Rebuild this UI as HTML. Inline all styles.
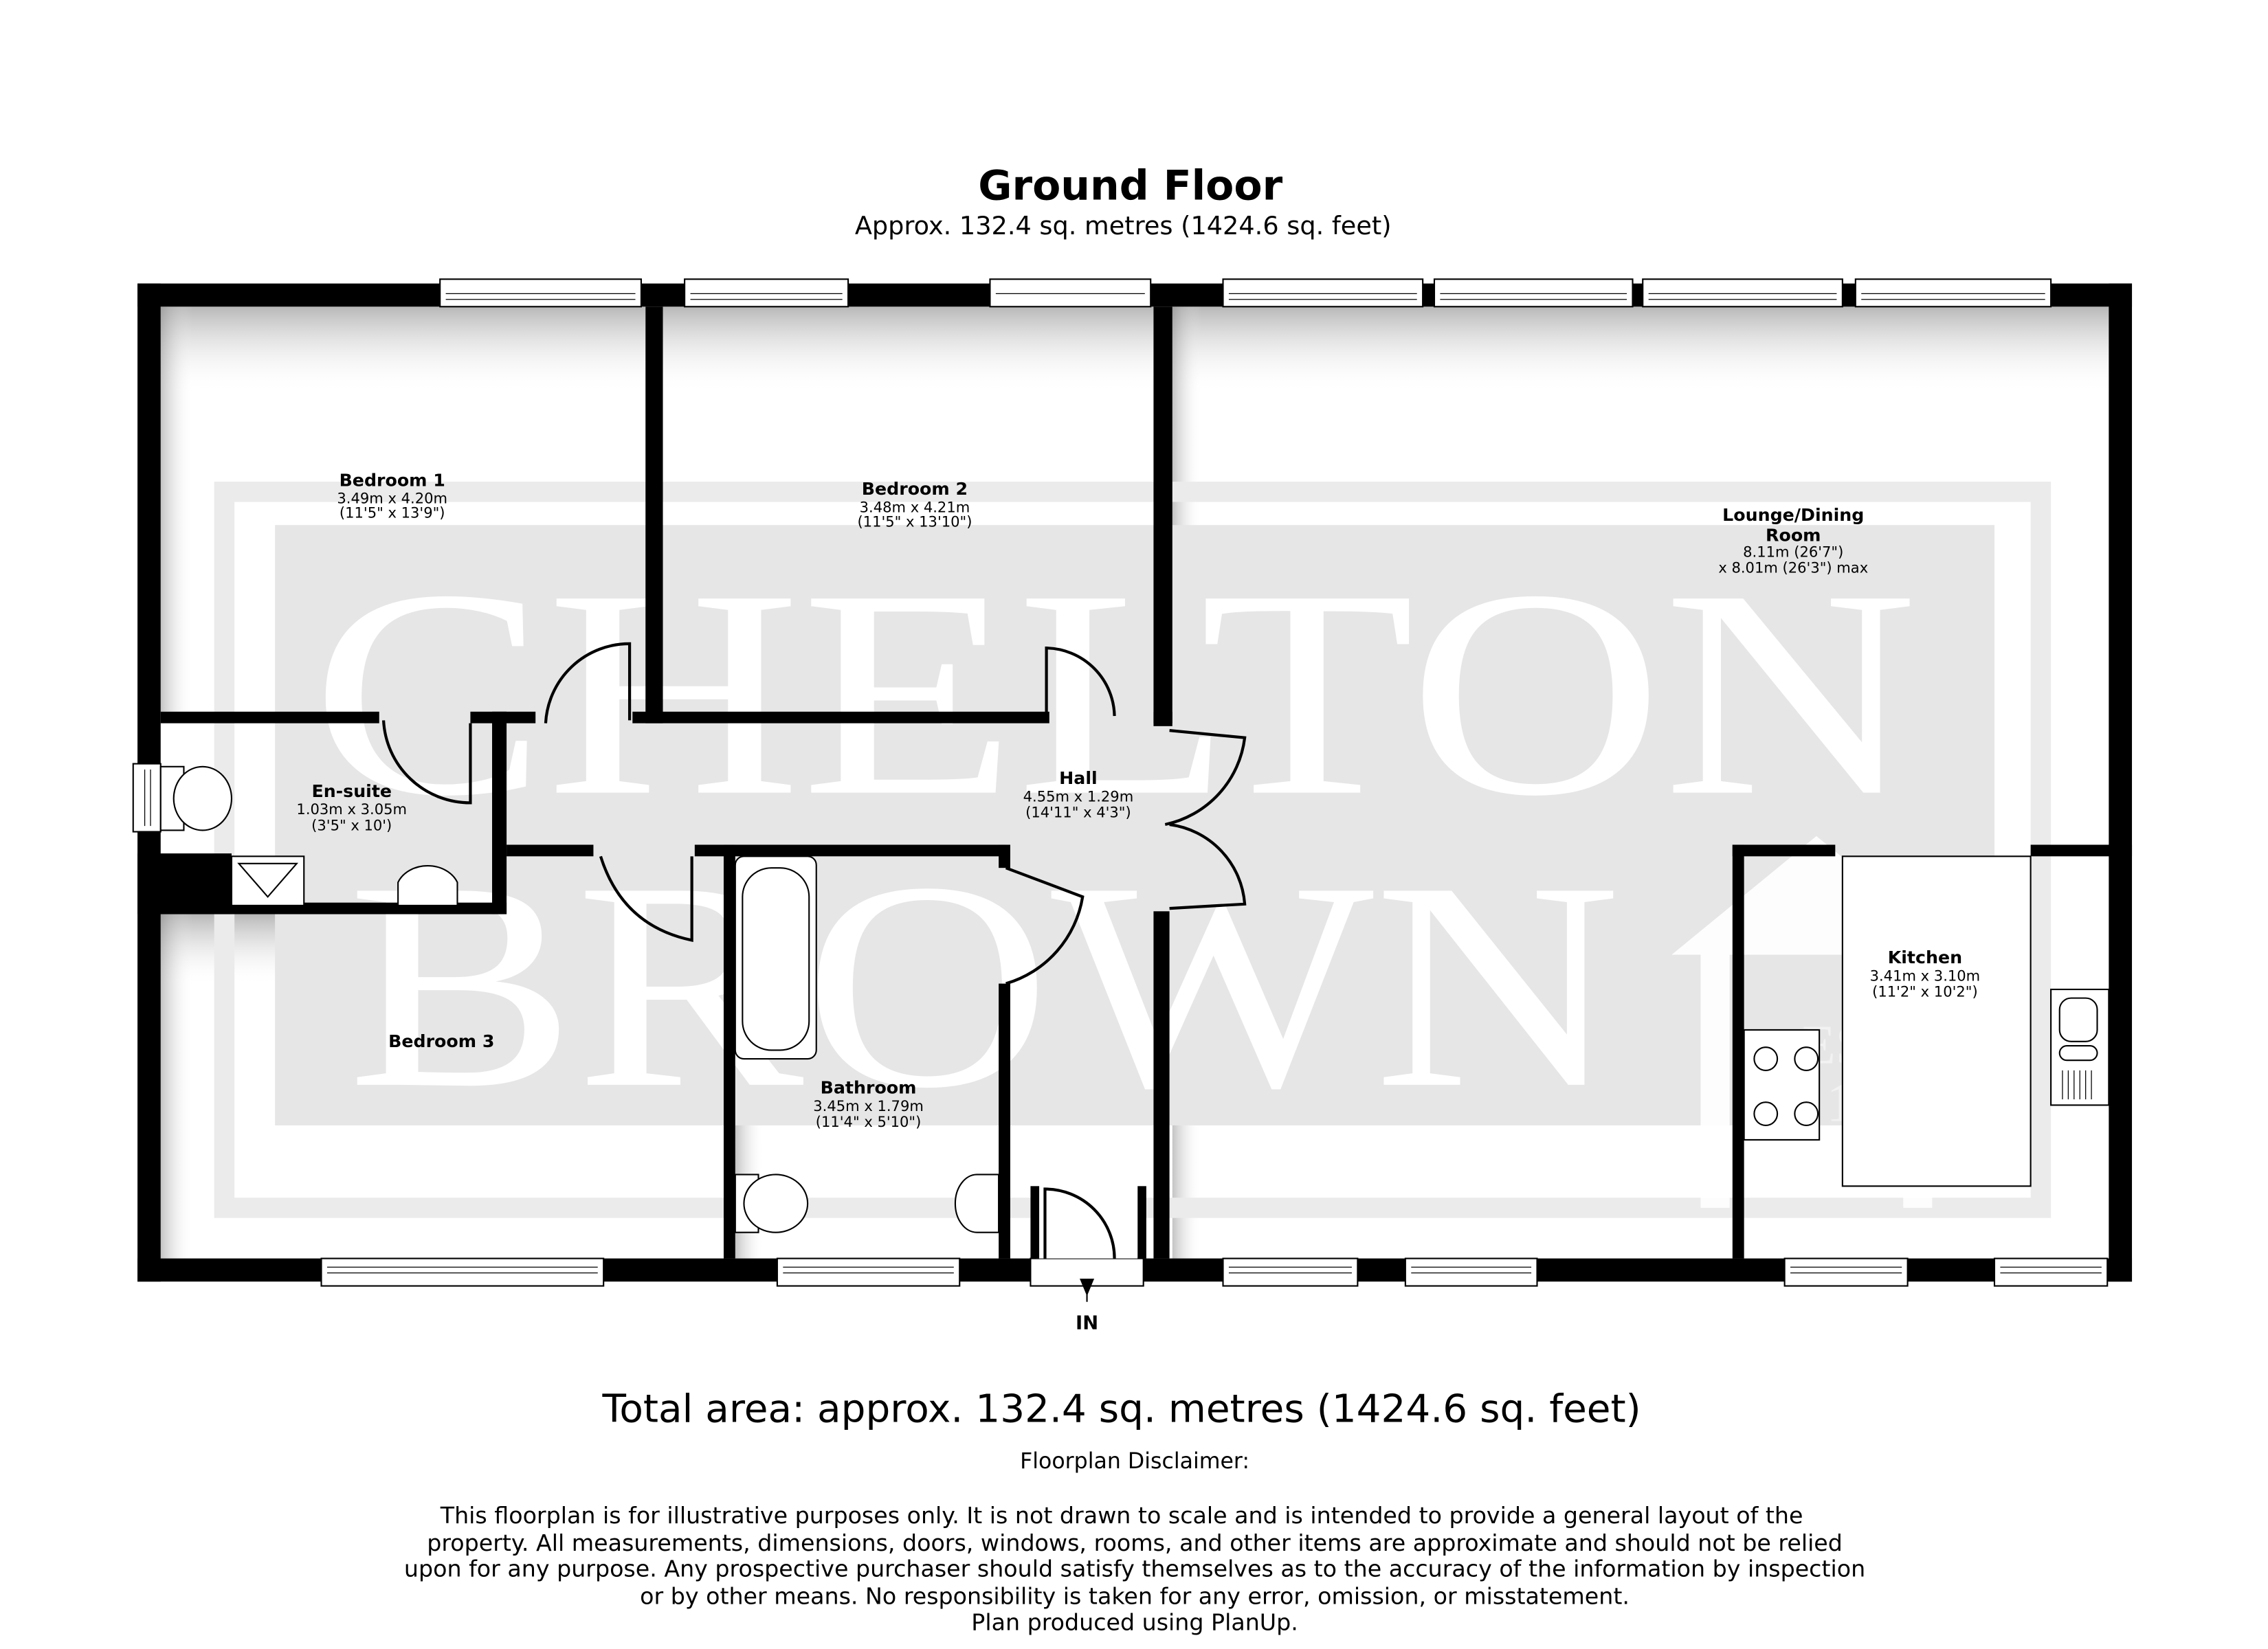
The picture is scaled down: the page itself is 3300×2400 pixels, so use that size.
<!DOCTYPE html>
<html><head><meta charset="utf-8"><style>
html,body{margin:0;padding:0;background:#fff;}
svg{display:block;}
text{font-family:"DejaVu Sans","Liberation Sans",sans-serif;}
</style></head><body>
<svg width="3300" height="2400" viewBox="0 0 1567 1140" preserveAspectRatio="none" xmlns="http://www.w3.org/2000/svg">
<defs>
<linearGradient id="gt" x1="0" y1="0" x2="0" y2="1"><stop offset="0" stop-color="#888" stop-opacity=".6"/><stop offset="1" stop-color="#fff" stop-opacity="0"/></linearGradient>
<linearGradient id="gl" x1="0" y1="0" x2="1" y2="0"><stop offset="0" stop-color="#888" stop-opacity=".5"/><stop offset="1" stop-color="#fff" stop-opacity="0"/></linearGradient>
</defs>
<rect width="1567" height="1140" fill="#fff"/>
<text x="781" y="138" font-size="28.5" font-weight="bold" text-anchor="middle">Ground Floor</text>
<text x="776" y="162" font-size="17.4" text-anchor="middle">Approx. 132.4 sq. metres (1424.6 sq. feet)</text>

<rect x="111" y="212" width="1347" height="658" fill="#fff"/>
<rect x="111" y="212" width="335" height="60" fill="url(#gt)"/>
<rect x="458" y="212" width="340" height="60" fill="url(#gt)"/>
<rect x="810" y="212" width="648" height="60" fill="url(#gt)"/>
<rect x="111" y="632" width="390" height="50" fill="url(#gt)"/>
<rect x="111" y="212" width="22" height="280" fill="url(#gl)"/>
<rect x="111" y="632" width="22" height="238" fill="url(#gl)"/>
<rect x="810" y="212" width="20" height="280" fill="url(#gl)"/>
<rect x="810" y="630" width="20" height="240" fill="url(#gl)"/>
<rect x="508" y="592" width="20" height="278" fill="url(#gl)"/>
<rect x="350" y="592" width="150" height="40" fill="url(#gt)"/>

<rect x="155" y="340" width="1255" height="495" fill="none" stroke="#ebebeb" stroke-width="14"/>
<rect x="190" y="363" width="1188" height="415" fill="#e6e6e6"/>
<g fill="#fff" text-anchor="middle">
<text x="770" y="548" font-size="205" style="font-family:'Liberation Serif',serif" textLength="1110" lengthAdjust="spacingAndGlyphs">CHELTON</text>
<text x="680" y="750" font-size="205" style="font-family:'Liberation Serif',serif" textLength="880" lengthAdjust="spacingAndGlyphs">BROWN</text>
</g>
<path d="M1155 660 L1255 578 L1355 660 L1335 660 L1335 835 L1315 835 L1315 660 L1195 660 L1195 835 L1175 835 L1175 660 Z" fill="#fff" opacity=".9"/>
<text x="1245" y="735" font-size="38" style="font-family:'Liberation Serif',serif" fill="#f2f2f2">EST</text>
<text x="1262" y="775" font-size="38" style="font-family:'Liberation Serif',serif" fill="#f2f2f2">1975</text>

<g fill="#000">
<rect x="95" y="196" width="1378" height="16"/>
<rect x="95" y="870" width="1378" height="16"/>
<rect x="95" y="196" width="16" height="690"/>
<rect x="1457" y="196" width="16" height="690"/>
<rect x="446" y="212" width="12" height="288"/>
<rect x="797" y="212" width="13" height="288"/>
<rect x="111" y="492" width="151" height="8"/>
<rect x="325" y="492" width="45" height="8"/>
<rect x="437" y="492" width="288" height="8"/>
<rect x="797" y="492" width="13" height="10"/>
<rect x="340" y="492" width="10" height="140"/>
<rect x="111" y="624" width="239" height="8"/>
<rect x="95" y="590" width="65" height="42"/>
<rect x="350" y="584" width="60" height="8"/>
<rect x="480" y="584" width="215" height="8"/>
<rect x="500" y="584" width="8" height="286"/>
<rect x="690" y="584" width="8" height="16"/>
<rect x="690" y="680" width="8" height="190"/>
<rect x="797" y="630" width="11" height="240"/>
<rect x="1197" y="584" width="8" height="286"/>
<rect x="1197" y="584" width="71" height="8"/>
<rect x="1403" y="584" width="70" height="8"/>
</g>

<g fill="#fff" stroke="#000" stroke-width="1">
<rect x="304" y="193" width="139" height="19"/><rect x="473" y="193" width="113" height="19"/><rect x="684" y="193" width="111" height="19"/>
<rect x="845" y="193" width="138" height="19"/><rect x="991" y="193" width="137" height="19"/><rect x="1135" y="193" width="138" height="19"/><rect x="1282" y="193" width="135" height="19"/>
<rect x="222" y="870" width="195" height="19"/><rect x="537" y="870" width="126" height="19"/><rect x="845" y="870" width="93" height="19"/><rect x="971" y="870" width="91" height="19"/><rect x="1233" y="870" width="85" height="19"/><rect x="1378" y="870" width="78" height="19"/>
<rect x="92" y="528" width="19" height="47"/>
<rect x="712" y="870" width="78" height="19"/>
</g>
<g stroke="#000" stroke-width=".6" fill="none">
<path d="M308 203h131M308 207h131M477 203h105M477 207h105M688 203h103M849 203h130M849 207h130M995 203h129M995 207h129M1139 203h130M1139 207h130M1286 203h127M1286 207h127"/>
<path d="M226 876h187M226 880h187M541 876h118M541 880h118M849 876h85M849 880h85M975 876h83M975 880h83M1237 876h77M1237 880h77M1382 876h70M1382 880h70"/>
<path d="M100 532v39M104 532v39"/>
</g>
<rect x="716" y="822" width="70" height="48" fill="#fff"/>
<rect x="712" y="820" width="6" height="50" fill="#000"/><rect x="786" y="820" width="6" height="50" fill="#000"/>
<path d="M722 870 V822 A48 48 0 0 1 770 870" fill="none" stroke="#000" stroke-width="2"/>
<path d="M751 896 L746 884 L756 884 Z" fill="#000"/><line x1="751" y1="884" x2="751" y2="900" stroke="#000"/>
<text x="751" y="919" font-size="13" font-weight="bold" text-anchor="middle">IN</text>

<g fill="none" stroke="#000" stroke-width="2">
<path d="M435 498 V445 A58 58 0 0 0 377 500"/>
<path d="M723 498 V448 A48 48 0 0 1 770 495"/>
<path d="M325 500 V555 A60 60 0 0 1 265 498"/>
<path d="M808 505 L860 510 A70 70 0 0 1 805 570"/>
<path d="M808 628 L860 625 A60 60 0 0 0 808 570"/>
<path d="M415 592 Q430 640 478 650 L478 592"/>
<path d="M695 600 L748 620 A75 75 0 0 1 695 680"/>
</g>

<g fill="#fff" stroke="#000" stroke-width="1">
<rect x="160" y="592" width="50" height="34"/>
<path d="M165 597 L205 597 L185 620 Z" fill="none"/>
<path d="M275 626 V610 A22 18 0 0 1 316 610 V626 Z"/>
<rect x="111" y="530" width="16" height="44"/>
<ellipse cx="140" cy="552" rx="20" ry="22"/>
<rect x="508" y="592" width="56" height="140" rx="6"/>
<rect x="513" y="600" width="46" height="126" rx="20"/>
<rect x="508" y="812" width="16" height="40"/>
<ellipse cx="536" cy="832" rx="22" ry="20"/>
<path d="M690 812 H675 A15 20 0 0 0 675 852 H690 Z"/>
<rect x="1205" y="712" width="52" height="76"/>
<circle cx="1220" cy="732" r="8"/><circle cx="1248" cy="732" r="8"/><circle cx="1220" cy="770" r="8"/><circle cx="1248" cy="770" r="8"/>
<rect x="1273" y="592" width="130" height="228"/>
<rect x="1417" y="684" width="40" height="80"/>
<rect x="1423" y="690" width="26" height="30" rx="8"/>
<rect x="1423" y="723" width="26" height="10" rx="5"/>
</g>
<path d="M1425 740v20M1429 740v20M1433 740v20M1437 740v20M1441 740v20M1445 740v20" stroke="#000" stroke-width=".6"/>

<g text-anchor="middle">
<text x="271" y="336" font-size="12" font-weight="bold">Bedroom 1</text>
<text x="271" y="348" font-size="10">3.49m x 4.20m</text>
<text x="271" y="358" font-size="10">(11'5" x 13'9")</text>
<text x="632" y="342" font-size="12" font-weight="bold">Bedroom 2</text>
<text x="632" y="354" font-size="10">3.48m x 4.21m</text>
<text x="632" y="364" font-size="10">(11'5" x 13'10")</text>
<text x="1239" y="360" font-size="12" font-weight="bold">Lounge/Dining</text>
<text x="1239" y="374" font-size="12" font-weight="bold">Room</text>
<text x="1239" y="385" font-size="10">8.11m (26'7")</text>
<text x="1239" y="396" font-size="10">x 8.01m (26'3") max</text>
<text x="745" y="542" font-size="12" font-weight="bold">Hall</text>
<text x="745" y="554" font-size="10">4.55m x 1.29m</text>
<text x="745" y="565" font-size="10">(14'11" x 4'3")</text>
<text x="243" y="551" font-size="12" font-weight="bold">En-suite</text>
<text x="243" y="563" font-size="10">1.03m x 3.05m</text>
<text x="243" y="574" font-size="10">(3'5" x 10')</text>
<text x="305" y="724" font-size="12" font-weight="bold">Bedroom 3</text>
<text x="600" y="756" font-size="12" font-weight="bold">Bathroom</text>
<text x="600" y="768" font-size="10">3.45m x 1.79m</text>
<text x="600" y="779" font-size="10">(11'4" x 5'10")</text>
<text x="1330" y="666" font-size="12" font-weight="bold">Kitchen</text>
<text x="1330" y="678" font-size="10">3.41m x 3.10m</text>
<text x="1330" y="689" font-size="10">(11'2" x 10'2")</text>
<text x="775" y="983" font-size="26.8">Total area: approx. 132.4 sq. metres (1424.6 sq. feet)</text>
<text x="784" y="1015" font-size="15">Floorplan Disclaimer:</text>
<text x="775" y="1053" font-size="15.8">This floorplan is for illustrative purposes only. It is not drawn to scale and is intended to provide a general layout of the</text>
<text x="784" y="1072" font-size="15.8">property. All measurements, dimensions, doors, windows, rooms, and other items are approximate and should not be relied</text>
<text x="784" y="1090" font-size="15.8">upon for any purpose. Any prospective purchaser should satisfy themselves as to the accuracy of the information by inspection</text>
<text x="784" y="1109" font-size="15.8">or by other means. No responsibility is taken for any error, omission, or misstatement.</text>
<text x="784" y="1127" font-size="15.8">Plan produced using PlanUp.</text>
</g>
</svg>
</body></html>
